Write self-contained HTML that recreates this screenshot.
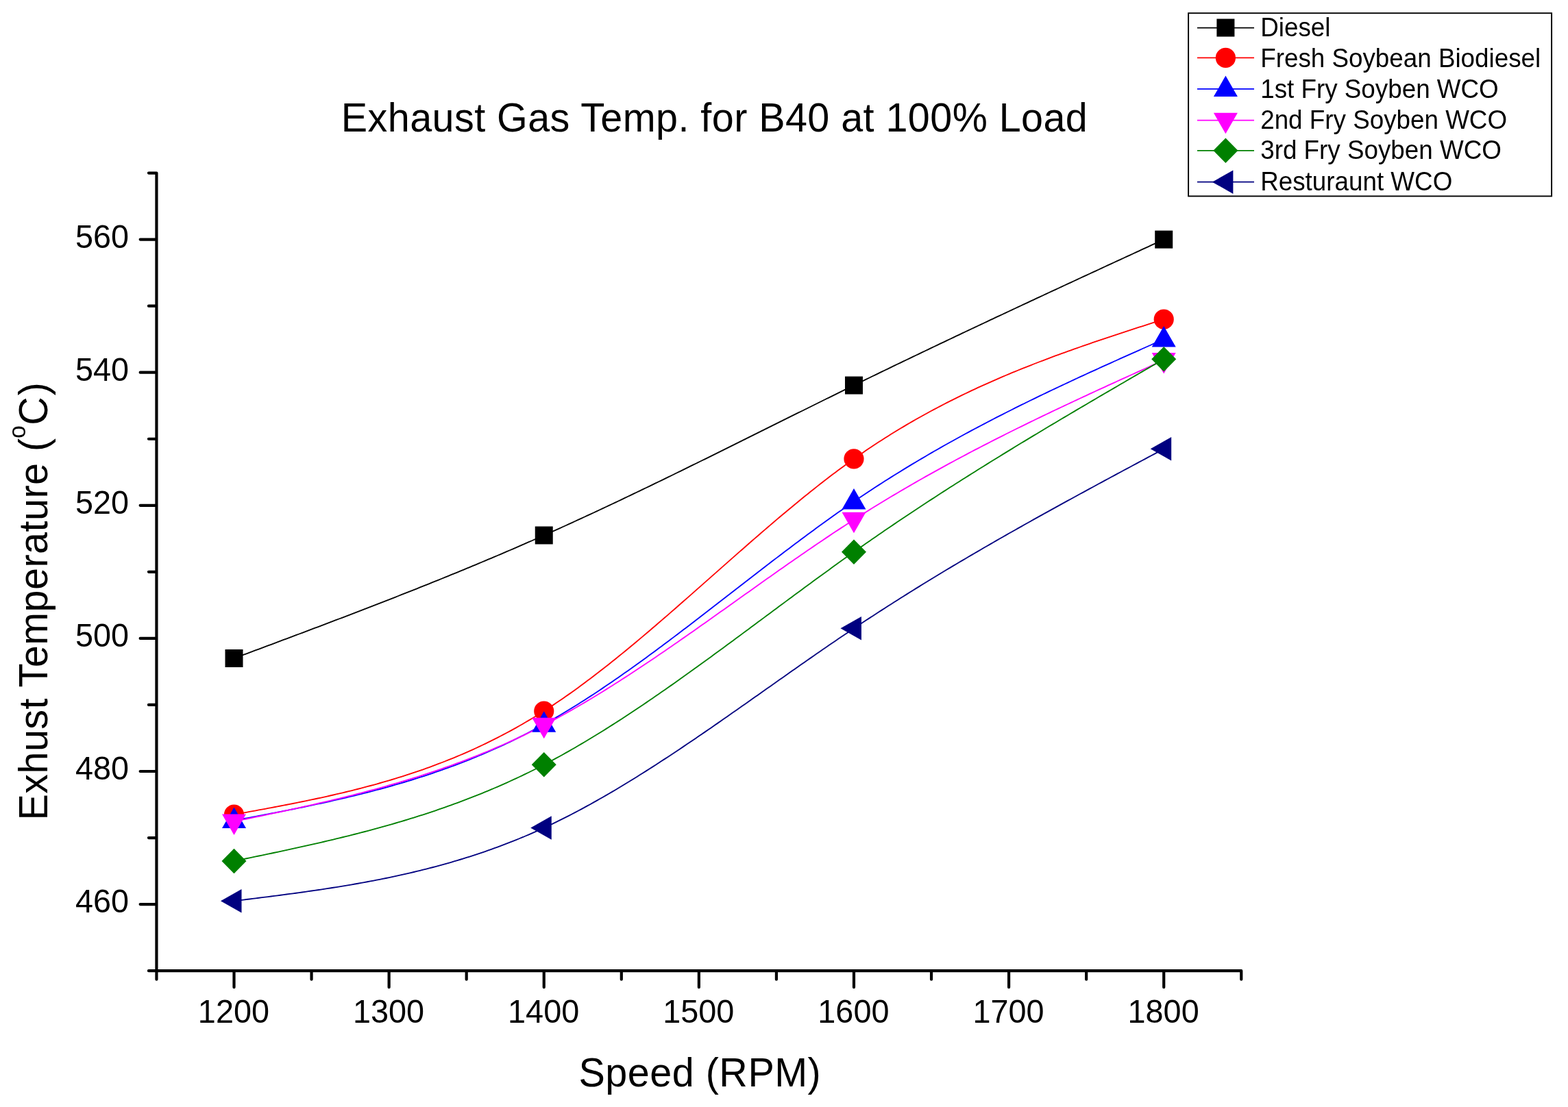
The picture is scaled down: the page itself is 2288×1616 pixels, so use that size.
<!DOCTYPE html>
<html><head><meta charset="utf-8"><title>Exhaust Gas Temp. for B40 at 100% Load</title>
<style>html,body{margin:0;padding:0;background:#fff;overflow:hidden;} svg{display:block;} text{font-family:"Liberation Sans",Arial,sans-serif;fill:#000;}</style>
</head><body>
<svg width="2288" height="1616" viewBox="0 0 2288 1616">
<rect width="2288" height="1616" fill="#fff"/>
<text transform="translate(497.80,191.80) scale(1,1.038)" font-size="57.5" letter-spacing="0.44">Exhaust Gas Temp. for B40 at 100% Load</text>
<polyline points="341.50,961.01 346.02,959.33 350.54,957.64 355.07,955.96 359.59,954.27 364.11,952.58 368.63,950.89 373.16,949.21 377.68,947.52 382.20,945.83 386.72,944.14 391.25,942.45 395.77,940.76 400.29,939.07 404.81,937.38 409.34,935.68 413.86,933.99 418.38,932.29 422.90,930.60 427.43,928.90 431.95,927.20 436.47,925.50 440.99,923.80 445.52,922.10 450.04,920.39 454.56,918.69 459.08,916.98 463.60,915.27 468.13,913.56 472.65,911.85 477.17,910.13 481.69,908.41 486.22,906.69 490.74,904.97 495.26,903.25 499.78,901.53 504.31,899.80 508.83,898.07 513.35,896.34 517.87,894.60 522.40,892.86 526.92,891.12 531.44,889.38 535.96,887.64 540.49,885.89 545.01,884.14 549.53,882.38 554.05,880.62 558.58,878.86 563.10,877.10 567.62,875.33 572.14,873.56 576.66,871.79 581.19,870.01 585.71,868.23 590.23,866.45 594.75,864.66 599.28,862.87 603.80,861.08 608.32,859.28 612.84,857.48 617.37,855.67 621.89,853.86 626.41,852.05 630.93,850.23 635.46,848.41 639.98,846.58 644.50,844.75 649.02,842.91 653.55,841.07 658.07,839.23 662.59,837.38 667.11,835.53 671.64,833.67 676.16,831.81 680.68,829.94 685.20,828.06 689.72,826.19 694.25,824.30 698.77,822.42 703.29,820.52 707.81,818.62 712.34,816.72 716.86,814.81 721.38,812.90 725.90,810.98 730.43,809.05 734.95,807.12 739.47,805.18 743.99,803.24 748.52,801.29 753.04,799.34 757.56,797.38 762.08,795.41 766.61,793.44 771.13,791.46 775.65,789.48 780.17,787.48 784.70,785.49 789.22,783.48 793.74,781.47 798.26,779.46 802.78,777.43 807.31,775.40 811.83,773.37 816.35,771.32 820.87,769.28 825.40,767.22 829.92,765.16 834.44,763.10 838.96,761.02 843.49,758.95 848.01,756.86 852.53,754.78 857.05,752.68 861.58,750.58 866.10,748.48 870.62,746.37 875.14,744.26 879.67,742.14 884.19,740.01 888.71,737.88 893.23,735.75 897.76,733.61 902.28,731.47 906.80,729.32 911.32,727.17 915.84,725.02 920.37,722.86 924.89,720.70 929.41,718.53 933.93,716.36 938.46,714.18 942.98,712.00 947.50,709.82 952.02,707.64 956.55,705.45 961.07,703.26 965.59,701.06 970.11,698.86 974.64,696.66 979.16,694.46 983.68,692.25 988.20,690.04 992.73,687.83 997.25,685.61 1001.77,683.40 1006.29,681.18 1010.82,678.95 1015.34,676.73 1019.86,674.50 1024.38,672.28 1028.90,670.05 1033.43,667.81 1037.95,665.58 1042.47,663.34 1046.99,661.11 1051.52,658.87 1056.04,656.63 1060.56,654.39 1065.08,652.15 1069.61,649.90 1074.13,647.66 1078.65,645.41 1083.17,643.17 1087.70,640.92 1092.22,638.67 1096.74,636.42 1101.26,634.18 1105.79,631.93 1110.31,629.68 1114.83,627.43 1119.35,625.18 1123.88,622.93 1128.40,620.68 1132.92,618.43 1137.44,616.18 1141.96,613.93 1146.49,611.69 1151.01,609.44 1155.53,607.19 1160.05,604.95 1164.58,602.70 1169.10,600.46 1173.62,598.21 1178.14,595.97 1182.67,593.73 1187.19,591.49 1191.71,589.25 1196.23,587.01 1200.76,584.78 1205.28,582.54 1209.80,580.31 1214.32,578.08 1218.85,575.85 1223.37,573.63 1227.89,571.40 1232.41,569.18 1236.94,566.96 1241.46,564.74 1245.98,562.53 1250.50,560.32 1255.02,558.10 1259.55,555.90 1264.07,553.69 1268.59,551.49 1273.11,549.29 1277.64,547.09 1282.16,544.90 1286.68,542.70 1291.20,540.51 1295.73,538.32 1300.25,536.14 1304.77,533.95 1309.29,531.77 1313.82,529.59 1318.34,527.41 1322.86,525.24 1327.38,523.06 1331.91,520.89 1336.43,518.72 1340.95,516.56 1345.47,514.39 1350.00,512.23 1354.52,510.07 1359.04,507.91 1363.56,505.75 1368.08,503.59 1372.61,501.44 1377.13,499.29 1381.65,497.14 1386.17,494.99 1390.70,492.84 1395.22,490.70 1399.74,488.56 1404.26,486.41 1408.79,484.27 1413.31,482.14 1417.83,480.00 1422.35,477.87 1426.88,475.73 1431.40,473.60 1435.92,471.47 1440.44,469.34 1444.97,467.21 1449.49,465.09 1454.01,462.96 1458.53,460.84 1463.06,458.72 1467.58,456.60 1472.10,454.48 1476.62,452.36 1481.14,450.24 1485.67,448.13 1490.19,446.01 1494.71,443.90 1499.23,441.79 1503.76,439.68 1508.28,437.57 1512.80,435.46 1517.32,433.35 1521.85,431.24 1526.37,429.14 1530.89,427.03 1535.41,424.93 1539.94,422.83 1544.46,420.72 1548.98,418.62 1553.50,416.52 1558.03,414.42 1562.55,412.32 1567.07,410.23 1571.59,408.13 1576.12,406.03 1580.64,403.94 1585.16,401.84 1589.68,399.75 1594.20,397.65 1598.73,395.56 1603.25,393.47 1607.77,391.37 1612.29,389.28 1616.82,387.19 1621.34,385.10 1625.86,383.01 1630.38,380.92 1634.91,378.83 1639.43,376.74 1643.95,374.65 1648.47,372.56 1653.00,370.47 1657.52,368.39 1662.04,366.30 1666.56,364.21 1671.09,362.12 1675.61,360.04 1680.13,357.95 1684.65,355.86 1689.18,353.77 1693.70,351.69 1698.22,349.60" fill="none" stroke="#000000" stroke-width="1.85" stroke-linejoin="round"/>
<polyline points="341.50,1189.08 346.02,1188.26 350.54,1187.44 355.07,1186.61 359.59,1185.79 364.11,1184.96 368.63,1184.13 373.16,1183.30 377.68,1182.46 382.20,1181.63 386.72,1180.79 391.25,1179.94 395.77,1179.09 400.29,1178.23 404.81,1177.37 409.34,1176.51 413.86,1175.63 418.38,1174.76 422.90,1173.87 427.43,1172.98 431.95,1172.07 436.47,1171.17 440.99,1170.25 445.52,1169.32 450.04,1168.38 454.56,1167.44 459.08,1166.48 463.60,1165.51 468.13,1164.53 472.65,1163.54 477.17,1162.54 481.69,1161.52 486.22,1160.50 490.74,1159.46 495.26,1158.40 499.78,1157.33 504.31,1156.25 508.83,1155.15 513.35,1154.04 517.87,1152.91 522.40,1151.76 526.92,1150.60 531.44,1149.42 535.96,1148.23 540.49,1147.01 545.01,1145.78 549.53,1144.53 554.05,1143.26 558.58,1141.97 563.10,1140.67 567.62,1139.34 572.14,1137.99 576.66,1136.62 581.19,1135.23 585.71,1133.81 590.23,1132.38 594.75,1130.92 599.28,1129.43 603.80,1127.93 608.32,1126.40 612.84,1124.85 617.37,1123.27 621.89,1121.66 626.41,1120.03 630.93,1118.38 635.46,1116.70 639.98,1114.99 644.50,1113.25 649.02,1111.49 653.55,1109.70 658.07,1107.88 662.59,1106.03 667.11,1104.15 671.64,1102.24 676.16,1100.30 680.68,1098.33 685.20,1096.33 689.72,1094.30 694.25,1092.24 698.77,1090.15 703.29,1088.02 707.81,1085.86 712.34,1083.66 716.86,1081.43 721.38,1079.17 725.90,1076.87 730.43,1074.54 734.95,1072.18 739.47,1069.77 743.99,1067.33 748.52,1064.85 753.04,1062.34 757.56,1059.79 762.08,1057.20 766.61,1054.57 771.13,1051.91 775.65,1049.20 780.17,1046.45 784.70,1043.67 789.22,1040.84 793.74,1037.98 798.26,1035.07 802.78,1032.12 807.31,1029.13 811.83,1026.10 816.35,1023.04 820.87,1019.93 825.40,1016.80 829.92,1013.62 834.44,1010.41 838.96,1007.16 843.49,1003.88 848.01,1000.57 852.53,997.23 857.05,993.85 861.58,990.45 866.10,987.01 870.62,983.55 875.14,980.05 879.67,976.53 884.19,972.98 888.71,969.41 893.23,965.81 897.76,962.19 902.28,958.54 906.80,954.87 911.32,951.18 915.84,947.46 920.37,943.73 924.89,939.97 929.41,936.20 933.93,932.41 938.46,928.60 942.98,924.77 947.50,920.93 952.02,917.07 956.55,913.20 961.07,909.31 965.59,905.41 970.11,901.50 974.64,897.58 979.16,893.64 983.68,889.70 988.20,885.74 992.73,881.78 997.25,877.81 1001.77,873.83 1006.29,869.85 1010.82,865.86 1015.34,861.87 1019.86,857.87 1024.38,853.87 1028.90,849.87 1033.43,845.87 1037.95,841.86 1042.47,837.85 1046.99,833.85 1051.52,829.85 1056.04,825.85 1060.56,821.85 1065.08,817.85 1069.61,813.86 1074.13,809.88 1078.65,805.90 1083.17,801.93 1087.70,797.96 1092.22,794.01 1096.74,790.06 1101.26,786.12 1105.79,782.20 1110.31,778.28 1114.83,774.38 1119.35,770.49 1123.88,766.61 1128.40,762.75 1132.92,758.90 1137.44,755.07 1141.96,751.25 1146.49,747.46 1151.01,743.68 1155.53,739.92 1160.05,736.18 1164.58,732.46 1169.10,728.76 1173.62,725.08 1178.14,721.43 1182.67,717.79 1187.19,714.19 1191.71,710.61 1196.23,707.05 1200.76,703.52 1205.28,700.02 1209.80,696.55 1214.32,693.10 1218.85,689.69 1223.37,686.30 1227.89,682.95 1232.41,679.63 1236.94,676.34 1241.46,673.09 1245.98,669.87 1250.50,666.68 1255.02,663.53 1259.55,660.41 1264.07,657.33 1268.59,654.28 1273.11,651.26 1277.64,648.28 1282.16,645.32 1286.68,642.41 1291.20,639.52 1295.73,636.66 1300.25,633.84 1304.77,631.04 1309.29,628.28 1313.82,625.55 1318.34,622.84 1322.86,620.17 1327.38,617.52 1331.91,614.91 1336.43,612.32 1340.95,609.76 1345.47,607.23 1350.00,604.72 1354.52,602.24 1359.04,599.79 1363.56,597.36 1368.08,594.96 1372.61,592.59 1377.13,590.24 1381.65,587.92 1386.17,585.62 1390.70,583.34 1395.22,581.09 1399.74,578.86 1404.26,576.66 1408.79,574.47 1413.31,572.31 1417.83,570.17 1422.35,568.06 1426.88,565.96 1431.40,563.89 1435.92,561.83 1440.44,559.80 1444.97,557.79 1449.49,555.79 1454.01,553.82 1458.53,551.86 1463.06,549.93 1467.58,548.01 1472.10,546.11 1476.62,544.22 1481.14,542.36 1485.67,540.51 1490.19,538.67 1494.71,536.86 1499.23,535.05 1503.76,533.27 1508.28,531.50 1512.80,529.74 1517.32,528.00 1521.85,526.27 1526.37,524.56 1530.89,522.86 1535.41,521.17 1539.94,519.49 1544.46,517.83 1548.98,516.18 1553.50,514.54 1558.03,512.91 1562.55,511.29 1567.07,509.68 1571.59,508.09 1576.12,506.50 1580.64,504.92 1585.16,503.35 1589.68,501.79 1594.20,500.24 1598.73,498.70 1603.25,497.16 1607.77,495.63 1612.29,494.11 1616.82,492.59 1621.34,491.09 1625.86,489.58 1630.38,488.09 1634.91,486.59 1639.43,485.11 1643.95,483.62 1648.47,482.15 1653.00,480.67 1657.52,479.20 1662.04,477.73 1666.56,476.27 1671.09,474.80 1675.61,473.34 1680.13,471.88 1684.65,470.43 1689.18,468.97 1693.70,467.52 1698.22,466.06" fill="none" stroke="#FF0000" stroke-width="1.85" stroke-linejoin="round"/>
<polyline points="341.50,1197.82 346.02,1196.96 350.54,1196.11 355.07,1195.26 359.59,1194.40 364.11,1193.55 368.63,1192.69 373.16,1191.83 377.68,1190.97 382.20,1190.10 386.72,1189.23 391.25,1188.36 395.77,1187.49 400.29,1186.61 404.81,1185.73 409.34,1184.84 413.86,1183.95 418.38,1183.05 422.90,1182.15 427.43,1181.24 431.95,1180.32 436.47,1179.40 440.99,1178.47 445.52,1177.53 450.04,1176.59 454.56,1175.64 459.08,1174.68 463.60,1173.71 468.13,1172.73 472.65,1171.74 477.17,1170.75 481.69,1169.74 486.22,1168.72 490.74,1167.69 495.26,1166.66 499.78,1165.61 504.31,1164.54 508.83,1163.47 513.35,1162.39 517.87,1161.29 522.40,1160.18 526.92,1159.05 531.44,1157.92 535.96,1156.76 540.49,1155.60 545.01,1154.42 549.53,1153.22 554.05,1152.01 558.58,1150.79 563.10,1149.54 567.62,1148.29 572.14,1147.01 576.66,1145.72 581.19,1144.41 585.71,1143.08 590.23,1141.74 594.75,1140.38 599.28,1139.00 603.80,1137.60 608.32,1136.18 612.84,1134.74 617.37,1133.28 621.89,1131.80 626.41,1130.30 630.93,1128.78 635.46,1127.24 639.98,1125.68 644.50,1124.09 649.02,1122.49 653.55,1120.86 658.07,1119.21 662.59,1117.53 667.11,1115.83 671.64,1114.11 676.16,1112.36 680.68,1110.59 685.20,1108.80 689.72,1106.97 694.25,1105.13 698.77,1103.26 703.29,1101.36 707.81,1099.43 712.34,1097.48 716.86,1095.50 721.38,1093.49 725.90,1091.46 730.43,1089.40 734.95,1087.31 739.47,1085.19 743.99,1083.04 748.52,1080.86 753.04,1078.65 757.56,1076.41 762.08,1074.15 766.61,1071.85 771.13,1069.52 775.65,1067.15 780.17,1064.76 784.70,1062.33 789.22,1059.88 793.74,1057.39 798.26,1054.86 802.78,1052.31 807.31,1049.72 811.83,1047.10 816.35,1044.45 820.87,1041.76 825.40,1039.05 829.92,1036.31 834.44,1033.54 838.96,1030.75 843.49,1027.92 848.01,1025.07 852.53,1022.19 857.05,1019.29 861.58,1016.36 866.10,1013.40 870.62,1010.42 875.14,1007.42 879.67,1004.39 884.19,1001.35 888.71,998.27 893.23,995.18 897.76,992.07 902.28,988.93 906.80,985.78 911.32,982.61 915.84,979.41 920.37,976.20 924.89,972.97 929.41,969.73 933.93,966.46 938.46,963.19 942.98,959.89 947.50,956.58 952.02,953.26 956.55,949.92 961.07,946.57 965.59,943.20 970.11,939.83 974.64,936.44 979.16,933.04 983.68,929.63 988.20,926.21 992.73,922.77 997.25,919.34 1001.77,915.89 1006.29,912.43 1010.82,908.97 1015.34,905.50 1019.86,902.02 1024.38,898.54 1028.90,895.05 1033.43,891.56 1037.95,888.06 1042.47,884.56 1046.99,881.06 1051.52,877.55 1056.04,874.04 1060.56,870.54 1065.08,867.03 1069.61,863.52 1074.13,860.01 1078.65,856.50 1083.17,852.99 1087.70,849.48 1092.22,845.98 1096.74,842.48 1101.26,838.98 1105.79,835.49 1110.31,832.00 1114.83,828.51 1119.35,825.04 1123.88,821.56 1128.40,818.10 1132.92,814.64 1137.44,811.19 1141.96,807.75 1146.49,804.32 1151.01,800.89 1155.53,797.48 1160.05,794.08 1164.58,790.69 1169.10,787.31 1173.62,783.94 1178.14,780.59 1182.67,777.24 1187.19,773.92 1191.71,770.60 1196.23,767.31 1200.76,764.02 1205.28,760.76 1209.80,757.51 1214.32,754.27 1218.85,751.06 1223.37,747.86 1227.89,744.68 1232.41,741.53 1236.94,738.39 1241.46,735.27 1245.98,732.17 1250.50,729.09 1255.02,726.04 1259.55,723.01 1264.07,719.99 1268.59,717.00 1273.11,714.03 1277.64,711.08 1282.16,708.15 1286.68,705.23 1291.20,702.34 1295.73,699.47 1300.25,696.62 1304.77,693.78 1309.29,690.96 1313.82,688.17 1318.34,685.39 1322.86,682.63 1327.38,679.88 1331.91,677.16 1336.43,674.45 1340.95,671.76 1345.47,669.08 1350.00,666.43 1354.52,663.79 1359.04,661.16 1363.56,658.55 1368.08,655.96 1372.61,653.38 1377.13,650.82 1381.65,648.28 1386.17,645.75 1390.70,643.23 1395.22,640.73 1399.74,638.24 1404.26,635.77 1408.79,633.31 1413.31,630.86 1417.83,628.43 1422.35,626.01 1426.88,623.61 1431.40,621.22 1435.92,618.84 1440.44,616.47 1444.97,614.12 1449.49,611.77 1454.01,609.44 1458.53,607.12 1463.06,604.81 1467.58,602.52 1472.10,600.23 1476.62,597.96 1481.14,595.69 1485.67,593.44 1490.19,591.19 1494.71,588.96 1499.23,586.74 1503.76,584.52 1508.28,582.31 1512.80,580.12 1517.32,577.93 1521.85,575.75 1526.37,573.58 1530.89,571.42 1535.41,569.26 1539.94,567.12 1544.46,564.98 1548.98,562.84 1553.50,560.72 1558.03,558.60 1562.55,556.49 1567.07,554.38 1571.59,552.28 1576.12,550.19 1580.64,548.10 1585.16,546.02 1589.68,543.95 1594.20,541.88 1598.73,539.81 1603.25,537.75 1607.77,535.69 1612.29,533.64 1616.82,531.59 1621.34,529.55 1625.86,527.51 1630.38,525.47 1634.91,523.43 1639.43,521.40 1643.95,519.38 1648.47,517.35 1653.00,515.33 1657.52,513.30 1662.04,511.29 1666.56,509.27 1671.09,507.25 1675.61,505.24 1680.13,503.22 1684.65,501.21 1689.18,499.20 1693.70,497.19 1698.22,495.17" fill="none" stroke="#0000FF" stroke-width="1.85" stroke-linejoin="round"/>
<polyline points="341.50,1199.27 346.02,1198.33 350.54,1197.40 355.07,1196.46 359.59,1195.52 364.11,1194.58 368.63,1193.63 373.16,1192.69 377.68,1191.74 382.20,1190.80 386.72,1189.84 391.25,1188.89 395.77,1187.93 400.29,1186.97 404.81,1186.01 409.34,1185.04 413.86,1184.07 418.38,1183.09 422.90,1182.11 427.43,1181.13 431.95,1180.13 436.47,1179.14 440.99,1178.13 445.52,1177.12 450.04,1176.11 454.56,1175.09 459.08,1174.06 463.60,1173.02 468.13,1171.97 472.65,1170.92 477.17,1169.86 481.69,1168.79 486.22,1167.71 490.74,1166.63 495.26,1165.53 499.78,1164.43 504.31,1163.31 508.83,1162.19 513.35,1161.05 517.87,1159.90 522.40,1158.74 526.92,1157.58 531.44,1156.40 535.96,1155.20 540.49,1154.00 545.01,1152.78 549.53,1151.55 554.05,1150.31 558.58,1149.05 563.10,1147.78 567.62,1146.50 572.14,1145.20 576.66,1143.89 581.19,1142.57 585.71,1141.23 590.23,1139.87 594.75,1138.50 599.28,1137.11 603.80,1135.71 608.32,1134.29 612.84,1132.85 617.37,1131.40 621.89,1129.93 626.41,1128.44 630.93,1126.93 635.46,1125.41 639.98,1123.87 644.50,1122.31 649.02,1120.73 653.55,1119.13 658.07,1117.51 662.59,1115.88 667.11,1114.22 671.64,1112.54 676.16,1110.84 680.68,1109.12 685.20,1107.38 689.72,1105.62 694.25,1103.84 698.77,1102.03 703.29,1100.20 707.81,1098.35 712.34,1096.48 716.86,1094.59 721.38,1092.67 725.90,1090.72 730.43,1088.76 734.95,1086.76 739.47,1084.75 743.99,1082.71 748.52,1080.64 753.04,1078.55 757.56,1076.44 762.08,1074.29 766.61,1072.13 771.13,1069.93 775.65,1067.71 780.17,1065.46 784.70,1063.19 789.22,1060.88 793.74,1058.55 798.26,1056.19 802.78,1053.80 807.31,1051.39 811.83,1048.95 816.35,1046.48 820.87,1043.99 825.40,1041.47 829.92,1038.93 834.44,1036.36 838.96,1033.76 843.49,1031.15 848.01,1028.51 852.53,1025.85 857.05,1023.16 861.58,1020.46 866.10,1017.73 870.62,1014.98 875.14,1012.21 879.67,1009.43 884.19,1006.62 888.71,1003.79 893.23,1000.94 897.76,998.08 902.28,995.20 906.80,992.30 911.32,989.38 915.84,986.45 920.37,983.50 924.89,980.54 929.41,977.56 933.93,974.57 938.46,971.56 942.98,968.54 947.50,965.50 952.02,962.46 956.55,959.40 961.07,956.32 965.59,953.24 970.11,950.15 974.64,947.04 979.16,943.93 983.68,940.81 988.20,937.67 992.73,934.53 997.25,931.38 1001.77,928.22 1006.29,925.06 1010.82,921.89 1015.34,918.71 1019.86,915.52 1024.38,912.33 1028.90,909.14 1033.43,905.94 1037.95,902.73 1042.47,899.53 1046.99,896.32 1051.52,893.10 1056.04,889.89 1060.56,886.67 1065.08,883.45 1069.61,880.23 1074.13,877.01 1078.65,873.79 1083.17,870.57 1087.70,867.35 1092.22,864.13 1096.74,860.91 1101.26,857.70 1105.79,854.48 1110.31,851.27 1114.83,848.07 1119.35,844.87 1123.88,841.67 1128.40,838.48 1132.92,835.29 1137.44,832.11 1141.96,828.93 1146.49,825.77 1151.01,822.60 1155.53,819.45 1160.05,816.30 1164.58,813.17 1169.10,810.04 1173.62,806.92 1178.14,803.81 1182.67,800.71 1187.19,797.62 1191.71,794.55 1196.23,791.48 1200.76,788.43 1205.28,785.39 1209.80,782.36 1214.32,779.35 1218.85,776.35 1223.37,773.36 1227.89,770.39 1232.41,767.44 1236.94,764.50 1241.46,761.57 1245.98,758.67 1250.50,755.78 1255.02,752.90 1259.55,750.05 1264.07,747.21 1268.59,744.38 1273.11,741.58 1277.64,738.78 1282.16,736.01 1286.68,733.25 1291.20,730.51 1295.73,727.78 1300.25,725.06 1304.77,722.37 1309.29,719.68 1313.82,717.01 1318.34,714.36 1322.86,711.72 1327.38,709.09 1331.91,706.48 1336.43,703.88 1340.95,701.30 1345.47,698.73 1350.00,696.17 1354.52,693.63 1359.04,691.09 1363.56,688.58 1368.08,686.07 1372.61,683.58 1377.13,681.10 1381.65,678.63 1386.17,676.17 1390.70,673.72 1395.22,671.29 1399.74,668.87 1404.26,666.46 1408.79,664.06 1413.31,661.67 1417.83,659.29 1422.35,656.92 1426.88,654.57 1431.40,652.22 1435.92,649.88 1440.44,647.56 1444.97,645.24 1449.49,642.93 1454.01,640.63 1458.53,638.34 1463.06,636.06 1467.58,633.79 1472.10,631.53 1476.62,629.28 1481.14,627.03 1485.67,624.79 1490.19,622.56 1494.71,620.34 1499.23,618.13 1503.76,615.92 1508.28,613.72 1512.80,611.53 1517.32,609.35 1521.85,607.17 1526.37,605.00 1530.89,602.83 1535.41,600.68 1539.94,598.52 1544.46,596.38 1548.98,594.24 1553.50,592.10 1558.03,589.97 1562.55,587.85 1567.07,585.73 1571.59,583.62 1576.12,581.51 1580.64,579.40 1585.16,577.30 1589.68,575.21 1594.20,573.12 1598.73,571.03 1603.25,568.94 1607.77,566.86 1612.29,564.79 1616.82,562.71 1621.34,560.64 1625.86,558.57 1630.38,556.51 1634.91,554.45 1639.43,552.39 1643.95,550.33 1648.47,548.27 1653.00,546.22 1657.52,544.17 1662.04,542.12 1666.56,540.07 1671.09,538.02 1675.61,535.97 1680.13,533.93 1684.65,531.88 1689.18,529.84 1693.70,527.79 1698.22,525.75" fill="none" stroke="#FF00FF" stroke-width="1.85" stroke-linejoin="round"/>
<polyline points="341.50,1257.02 346.02,1256.08 350.54,1255.15 355.07,1254.21 359.59,1253.27 364.11,1252.34 368.63,1251.40 373.16,1250.46 377.68,1249.51 382.20,1248.57 386.72,1247.62 391.25,1246.67 395.77,1245.72 400.29,1244.76 404.81,1243.80 409.34,1242.83 413.86,1241.87 418.38,1240.89 422.90,1239.91 427.43,1238.93 431.95,1237.94 436.47,1236.95 440.99,1235.95 445.52,1234.94 450.04,1233.93 454.56,1232.91 459.08,1231.88 463.60,1230.85 468.13,1229.80 472.65,1228.75 477.17,1227.69 481.69,1226.63 486.22,1225.55 490.74,1224.47 495.26,1223.37 499.78,1222.27 504.31,1221.16 508.83,1220.03 513.35,1218.90 517.87,1217.75 522.40,1216.60 526.92,1215.43 531.44,1214.25 535.96,1213.06 540.49,1211.86 545.01,1210.64 549.53,1209.41 554.05,1208.17 558.58,1206.92 563.10,1205.65 567.62,1204.37 572.14,1203.07 576.66,1201.76 581.19,1200.44 585.71,1199.09 590.23,1197.74 594.75,1196.37 599.28,1194.98 603.80,1193.58 608.32,1192.16 612.84,1190.72 617.37,1189.27 621.89,1187.80 626.41,1186.31 630.93,1184.80 635.46,1183.28 639.98,1181.73 644.50,1180.17 649.02,1178.59 653.55,1176.99 658.07,1175.37 662.59,1173.73 667.11,1172.07 671.64,1170.40 676.16,1168.69 680.68,1166.97 685.20,1165.23 689.72,1163.47 694.25,1161.68 698.77,1159.87 703.29,1158.04 707.81,1156.19 712.34,1154.31 716.86,1152.41 721.38,1150.49 725.90,1148.54 730.43,1146.57 734.95,1144.58 739.47,1142.56 743.99,1140.51 748.52,1138.44 753.04,1136.35 757.56,1134.23 762.08,1132.08 766.61,1129.91 771.13,1127.71 775.65,1125.48 780.17,1123.22 784.70,1120.94 789.22,1118.63 793.74,1116.30 798.26,1113.93 802.78,1111.54 807.31,1109.11 811.83,1106.67 816.35,1104.19 820.87,1101.69 825.40,1099.16 829.92,1096.61 834.44,1094.03 838.96,1091.43 843.49,1088.80 848.01,1086.15 852.53,1083.47 857.05,1080.77 861.58,1078.05 866.10,1075.31 870.62,1072.54 875.14,1069.76 879.67,1066.95 884.19,1064.12 888.71,1061.27 893.23,1058.40 897.76,1055.51 902.28,1052.61 906.80,1049.68 911.32,1046.73 915.84,1043.77 920.37,1040.79 924.89,1037.79 929.41,1034.78 933.93,1031.75 938.46,1028.70 942.98,1025.64 947.50,1022.56 952.02,1019.47 956.55,1016.36 961.07,1013.24 965.59,1010.10 970.11,1006.96 974.64,1003.79 979.16,1000.62 983.68,997.44 988.20,994.24 992.73,991.03 997.25,987.81 1001.77,984.58 1006.29,981.34 1010.82,978.09 1015.34,974.84 1019.86,971.57 1024.38,968.29 1028.90,965.01 1033.43,961.72 1037.95,958.42 1042.47,955.11 1046.99,951.80 1051.52,948.49 1056.04,945.16 1060.56,941.83 1065.08,938.50 1069.61,935.16 1074.13,931.82 1078.65,928.47 1083.17,925.12 1087.70,921.77 1092.22,918.42 1096.74,915.06 1101.26,911.70 1105.79,908.34 1110.31,904.98 1114.83,901.62 1119.35,898.26 1123.88,894.90 1128.40,891.54 1132.92,888.18 1137.44,884.82 1141.96,881.47 1146.49,878.12 1151.01,874.77 1155.53,871.42 1160.05,868.07 1164.58,864.73 1169.10,861.40 1173.62,858.07 1178.14,854.74 1182.67,851.42 1187.19,848.11 1191.71,844.80 1196.23,841.50 1200.76,838.20 1205.28,834.92 1209.80,831.64 1214.32,828.37 1218.85,825.10 1223.37,821.85 1227.89,818.61 1232.41,815.37 1236.94,812.15 1241.46,808.94 1245.98,805.74 1250.50,802.54 1255.02,799.37 1259.55,796.20 1264.07,793.04 1268.59,789.89 1273.11,786.76 1277.64,783.64 1282.16,780.52 1286.68,777.42 1291.20,774.33 1295.73,771.24 1300.25,768.17 1304.77,765.11 1309.29,762.06 1313.82,759.02 1318.34,755.98 1322.86,752.96 1327.38,749.95 1331.91,746.94 1336.43,743.95 1340.95,740.96 1345.47,737.99 1350.00,735.02 1354.52,732.06 1359.04,729.11 1363.56,726.17 1368.08,723.24 1372.61,720.31 1377.13,717.40 1381.65,714.49 1386.17,711.59 1390.70,708.70 1395.22,705.81 1399.74,702.93 1404.26,700.06 1408.79,697.20 1413.31,694.35 1417.83,691.50 1422.35,688.66 1426.88,685.83 1431.40,683.00 1435.92,680.18 1440.44,677.37 1444.97,674.56 1449.49,671.76 1454.01,668.97 1458.53,666.18 1463.06,663.40 1467.58,660.62 1472.10,657.86 1476.62,655.09 1481.14,652.33 1485.67,649.58 1490.19,646.83 1494.71,644.09 1499.23,641.35 1503.76,638.62 1508.28,635.89 1512.80,633.17 1517.32,630.45 1521.85,627.74 1526.37,625.03 1530.89,622.33 1535.41,619.63 1539.94,616.93 1544.46,614.24 1548.98,611.55 1553.50,608.87 1558.03,606.19 1562.55,603.51 1567.07,600.84 1571.59,598.17 1576.12,595.50 1580.64,592.84 1585.16,590.18 1589.68,587.52 1594.20,584.86 1598.73,582.21 1603.25,579.56 1607.77,576.91 1612.29,574.27 1616.82,571.63 1621.34,568.98 1625.86,566.35 1630.38,563.71 1634.91,561.07 1639.43,558.44 1643.95,555.81 1648.47,553.17 1653.00,550.54 1657.52,547.92 1662.04,545.29 1666.56,542.66 1671.09,540.04 1675.61,537.41 1680.13,534.79 1684.65,532.16 1689.18,529.54 1693.70,526.91 1698.22,524.29" fill="none" stroke="#008000" stroke-width="1.85" stroke-linejoin="round"/>
<polyline points="341.50,1315.25 346.02,1314.69 350.54,1314.13 355.07,1313.58 359.59,1313.02 364.11,1312.46 368.63,1311.90 373.16,1311.34 377.68,1310.77 382.20,1310.20 386.72,1309.63 391.25,1309.06 395.77,1308.48 400.29,1307.90 404.81,1307.32 409.34,1306.73 413.86,1306.14 418.38,1305.54 422.90,1304.93 427.43,1304.32 431.95,1303.71 436.47,1303.09 440.99,1302.46 445.52,1301.83 450.04,1301.19 454.56,1300.54 459.08,1299.88 463.60,1299.22 468.13,1298.55 472.65,1297.86 477.17,1297.17 481.69,1296.48 486.22,1295.77 490.74,1295.05 495.26,1294.32 499.78,1293.58 504.31,1292.83 508.83,1292.07 513.35,1291.30 517.87,1290.52 522.40,1289.72 526.92,1288.91 531.44,1288.09 535.96,1287.26 540.49,1286.41 545.01,1285.55 549.53,1284.68 554.05,1283.79 558.58,1282.89 563.10,1281.97 567.62,1281.04 572.14,1280.09 576.66,1279.13 581.19,1278.15 585.71,1277.15 590.23,1276.14 594.75,1275.11 599.28,1274.07 603.80,1273.00 608.32,1271.92 612.84,1270.82 617.37,1269.70 621.89,1268.57 626.41,1267.41 630.93,1266.24 635.46,1265.04 639.98,1263.83 644.50,1262.59 649.02,1261.34 653.55,1260.06 658.07,1258.77 662.59,1257.45 667.11,1256.11 671.64,1254.75 676.16,1253.36 680.68,1251.95 685.20,1250.52 689.72,1249.07 694.25,1247.59 698.77,1246.09 703.29,1244.56 707.81,1243.01 712.34,1241.44 716.86,1239.84 721.38,1238.21 725.90,1236.56 730.43,1234.88 734.95,1233.18 739.47,1231.45 743.99,1229.69 748.52,1227.91 753.04,1226.10 757.56,1224.26 762.08,1222.39 766.61,1220.49 771.13,1218.56 775.65,1216.61 780.17,1214.63 784.70,1212.61 789.22,1210.57 793.74,1208.49 798.26,1206.39 802.78,1204.25 807.31,1202.09 811.83,1199.89 816.35,1197.67 820.87,1195.42 825.40,1193.14 829.92,1190.83 834.44,1188.49 838.96,1186.13 843.49,1183.74 848.01,1181.33 852.53,1178.89 857.05,1176.43 861.58,1173.94 866.10,1171.42 870.62,1168.88 875.14,1166.32 879.67,1163.74 884.19,1161.13 888.71,1158.50 893.23,1155.85 897.76,1153.18 902.28,1150.49 906.80,1147.78 911.32,1145.04 915.84,1142.29 920.37,1139.52 924.89,1136.73 929.41,1133.92 933.93,1131.09 938.46,1128.25 942.98,1125.39 947.50,1122.51 952.02,1119.62 956.55,1116.71 961.07,1113.78 965.59,1110.84 970.11,1107.89 974.64,1104.92 979.16,1101.94 983.68,1098.94 988.20,1095.94 992.73,1092.92 997.25,1089.89 1001.77,1086.84 1006.29,1083.79 1010.82,1080.72 1015.34,1077.65 1019.86,1074.56 1024.38,1071.47 1028.90,1068.37 1033.43,1065.26 1037.95,1062.14 1042.47,1059.01 1046.99,1055.87 1051.52,1052.73 1056.04,1049.59 1060.56,1046.43 1065.08,1043.27 1069.61,1040.11 1074.13,1036.94 1078.65,1033.77 1083.17,1030.59 1087.70,1027.41 1092.22,1024.23 1096.74,1021.05 1101.26,1017.86 1105.79,1014.67 1110.31,1011.48 1114.83,1008.29 1119.35,1005.10 1123.88,1001.91 1128.40,998.72 1132.92,995.53 1137.44,992.34 1141.96,989.15 1146.49,985.97 1151.01,982.79 1155.53,979.61 1160.05,976.43 1164.58,973.26 1169.10,970.10 1173.62,966.94 1178.14,963.78 1182.67,960.63 1187.19,957.48 1191.71,954.34 1196.23,951.21 1200.76,948.09 1205.28,944.97 1209.80,941.86 1214.32,938.76 1218.85,935.67 1223.37,932.59 1227.89,929.52 1232.41,926.46 1236.94,923.41 1241.46,920.37 1245.98,917.34 1250.50,914.33 1255.02,911.32 1259.55,908.33 1264.07,905.35 1268.59,902.38 1273.11,899.43 1277.64,896.48 1282.16,893.55 1286.68,890.62 1291.20,887.71 1295.73,884.81 1300.25,881.92 1304.77,879.04 1309.29,876.17 1313.82,873.31 1318.34,870.46 1322.86,867.62 1327.38,864.79 1331.91,861.97 1336.43,859.16 1340.95,856.36 1345.47,853.57 1350.00,850.79 1354.52,848.02 1359.04,845.25 1363.56,842.50 1368.08,839.75 1372.61,837.02 1377.13,834.29 1381.65,831.57 1386.17,828.86 1390.70,826.16 1395.22,823.47 1399.74,820.78 1404.26,818.10 1408.79,815.43 1413.31,812.77 1417.83,810.11 1422.35,807.47 1426.88,804.83 1431.40,802.19 1435.92,799.57 1440.44,796.95 1444.97,794.34 1449.49,791.73 1454.01,789.13 1458.53,786.54 1463.06,783.96 1467.58,781.38 1472.10,778.80 1476.62,776.24 1481.14,773.68 1485.67,771.12 1490.19,768.57 1494.71,766.03 1499.23,763.49 1503.76,760.95 1508.28,758.42 1512.80,755.90 1517.32,753.38 1521.85,750.87 1526.37,748.36 1530.89,745.86 1535.41,743.36 1539.94,740.86 1544.46,738.37 1548.98,735.88 1553.50,733.40 1558.03,730.92 1562.55,728.44 1567.07,725.97 1571.59,723.50 1576.12,721.04 1580.64,718.57 1585.16,716.12 1589.68,713.66 1594.20,711.21 1598.73,708.76 1603.25,706.31 1607.77,703.86 1612.29,701.42 1616.82,698.98 1621.34,696.54 1625.86,694.11 1630.38,691.67 1634.91,689.24 1639.43,686.81 1643.95,684.38 1648.47,681.95 1653.00,679.53 1657.52,677.10 1662.04,674.68 1666.56,672.25 1671.09,669.83 1675.61,667.41 1680.13,664.99 1684.65,662.57 1689.18,660.15 1693.70,657.73 1698.22,655.31" fill="none" stroke="#000080" stroke-width="1.85" stroke-linejoin="round"/>
<rect x="328.50" y="948.01" width="26" height="26" fill="#000000"/>
<rect x="780.74" y="768.47" width="26" height="26" fill="#000000"/>
<rect x="1232.98" y="549.53" width="26" height="26" fill="#000000"/>
<rect x="1685.22" y="336.60" width="26" height="26" fill="#000000"/>
<circle cx="341.50" cy="1189.08" r="14.6" fill="#FF0000"/>
<circle cx="793.74" cy="1037.98" r="14.6" fill="#FF0000"/>
<circle cx="1245.98" cy="669.87" r="14.6" fill="#FF0000"/>
<circle cx="1698.22" cy="466.06" r="14.6" fill="#FF0000"/>
<polygon points="341.50,1178.60 359.00,1209.10 324.00,1209.10" fill="#0000FF"/>
<polygon points="793.74,1038.17 811.24,1068.67 776.24,1068.67" fill="#0000FF"/>
<polygon points="1245.98,712.96 1263.48,743.46 1228.48,743.46" fill="#0000FF"/>
<polygon points="1698.22,475.96 1715.72,506.46 1680.72,506.46" fill="#0000FF"/>
<polygon points="341.50,1218.95 359.00,1188.45 324.00,1188.45" fill="#FF00FF"/>
<polygon points="793.74,1078.22 811.24,1047.72 776.24,1047.72" fill="#FF00FF"/>
<polygon points="1245.98,778.34 1263.48,747.84 1228.48,747.84" fill="#FF00FF"/>
<polygon points="1698.22,545.42 1715.72,514.92 1680.72,514.92" fill="#FF00FF"/>
<polygon points="341.50,1238.77 359.50,1257.02 341.50,1275.27 323.50,1257.02" fill="#008000"/>
<polygon points="793.74,1098.05 811.74,1116.30 793.74,1134.55 775.74,1116.30" fill="#008000"/>
<polygon points="1245.98,787.49 1263.98,805.74 1245.98,823.99 1227.98,805.74" fill="#008000"/>
<polygon points="1698.22,506.04 1716.22,524.29 1698.22,542.54 1680.22,524.29" fill="#008000"/>
<polygon points="321.98,1315.25 352.48,1298.00 352.48,1332.50" fill="#000080"/>
<polygon points="774.22,1208.49 804.72,1191.24 804.72,1225.74" fill="#000080"/>
<polygon points="1226.46,917.34 1256.96,900.09 1256.96,934.59" fill="#000080"/>
<polygon points="1678.70,655.31 1709.20,638.06 1709.20,672.56" fill="#000080"/>
<path d="M228.44,252.55V1417.15H1811.28M228.44,1417.15v12.5M341.50,1417.15v24M454.56,1417.15v12.5M567.62,1417.15v24M680.68,1417.15v12.5M793.74,1417.15v24M906.80,1417.15v12.5M1019.86,1417.15v24M1132.92,1417.15v12.5M1245.98,1417.15v24M1359.04,1417.15v12.5M1472.10,1417.15v24M1585.16,1417.15v12.5M1698.22,1417.15v24M1811.28,1417.15v12.5M228.44,1417.15h-11.5M228.44,1320.10h-23.8M228.44,1223.05h-11.5M228.44,1126.00h-23.8M228.44,1028.95h-11.5M228.44,931.90h-23.8M228.44,834.85h-11.5M228.44,737.80h-23.8M228.44,640.75h-11.5M228.44,543.70h-23.8M228.44,446.65h-11.5M228.44,349.60h-23.8M228.44,252.55h-11.5" fill="none" stroke="#000" stroke-width="4.2" stroke-linecap="round" stroke-linejoin="round"/>
<text transform="translate(340.90,1492.60) scale(1,1.04)" font-size="46.8" text-anchor="middle">1200</text>
<text transform="translate(567.02,1492.60) scale(1,1.04)" font-size="46.8" text-anchor="middle">1300</text>
<text transform="translate(793.14,1492.60) scale(1,1.04)" font-size="46.8" text-anchor="middle">1400</text>
<text transform="translate(1019.26,1492.60) scale(1,1.04)" font-size="46.8" text-anchor="middle">1500</text>
<text transform="translate(1245.38,1492.60) scale(1,1.04)" font-size="46.8" text-anchor="middle">1600</text>
<text transform="translate(1471.50,1492.60) scale(1,1.04)" font-size="46.8" text-anchor="middle">1700</text>
<text transform="translate(1697.62,1492.60) scale(1,1.04)" font-size="46.8" text-anchor="middle">1800</text>
<text transform="translate(188.00,1332.10) scale(1,1.035)" font-size="46.8" text-anchor="end">460</text>
<text transform="translate(188.00,1138.00) scale(1,1.035)" font-size="46.8" text-anchor="end">480</text>
<text transform="translate(188.00,943.90) scale(1,1.035)" font-size="46.8" text-anchor="end">500</text>
<text transform="translate(188.00,749.80) scale(1,1.035)" font-size="46.8" text-anchor="end">520</text>
<text transform="translate(188.00,555.70) scale(1,1.035)" font-size="46.8" text-anchor="end">540</text>
<text transform="translate(188.00,361.60) scale(1,1.035)" font-size="46.8" text-anchor="end">560</text>
<text transform="translate(844.50,1585.90) scale(1,1.038)" font-size="57.5" letter-spacing="0.5">Speed (RPM)</text>
<text transform="translate(68.70,1197.60) rotate(-90) scale(1,1.038)" font-size="57.5" letter-spacing="0.48">Exhust Temperature (<tspan font-size="34" dy="-30.6" dx="-0.6">o</tspan><tspan dy="30.6" dx="-0.2">C</tspan><tspan dx="1.7">)</tspan></text>
<rect x="1734.1" y="19.2" width="530" height="267.2" fill="none" stroke="#000" stroke-width="1.9"/>
<line x1="1747" y1="40.50" x2="1830" y2="40.50" stroke="#000000" stroke-width="1.75"/>
<rect x="1775.40" y="27.50" width="26" height="26" fill="#000000"/>
<text transform="translate(1839.20,53.00) scale(1,1.04)" font-size="36.8">Diesel</text>
<line x1="1747" y1="84.40" x2="1830" y2="84.40" stroke="#FF0000" stroke-width="1.75"/>
<circle cx="1788.40" cy="84.40" r="14.6" fill="#FF0000"/>
<text transform="translate(1839.20,97.60) scale(1,1.04)" font-size="36.8">Fresh Soybean Biodiesel</text>
<line x1="1747" y1="129.80" x2="1830" y2="129.80" stroke="#0000FF" stroke-width="1.75"/>
<polygon points="1788.40,110.59 1805.90,141.09 1770.90,141.09" fill="#0000FF"/>
<text transform="translate(1839.20,142.80) scale(1,1.04)" font-size="36.8">1st Fry Soyben WCO</text>
<line x1="1747" y1="175.60" x2="1830" y2="175.60" stroke="#FF00FF" stroke-width="1.75"/>
<polygon points="1788.40,195.27 1805.90,164.77 1770.90,164.77" fill="#FF00FF"/>
<text transform="translate(1839.20,187.60) scale(1,1.04)" font-size="36.8">2nd Fry Soyben WCO</text>
<line x1="1747" y1="219.80" x2="1830" y2="219.80" stroke="#008000" stroke-width="1.75"/>
<polygon points="1788.40,201.55 1806.40,219.80 1788.40,238.05 1770.40,219.80" fill="#008000"/>
<text transform="translate(1839.20,232.30) scale(1,1.04)" font-size="36.8">3rd Fry Soyben WCO</text>
<line x1="1747" y1="265.70" x2="1830" y2="265.70" stroke="#000080" stroke-width="1.75"/>
<polygon points="1768.88,265.70 1799.38,248.45 1799.38,282.95" fill="#000080"/>
<text transform="translate(1839.20,277.50) scale(1,1.04)" font-size="36.8">Resturaunt WCO</text>
</svg>
</body></html>
